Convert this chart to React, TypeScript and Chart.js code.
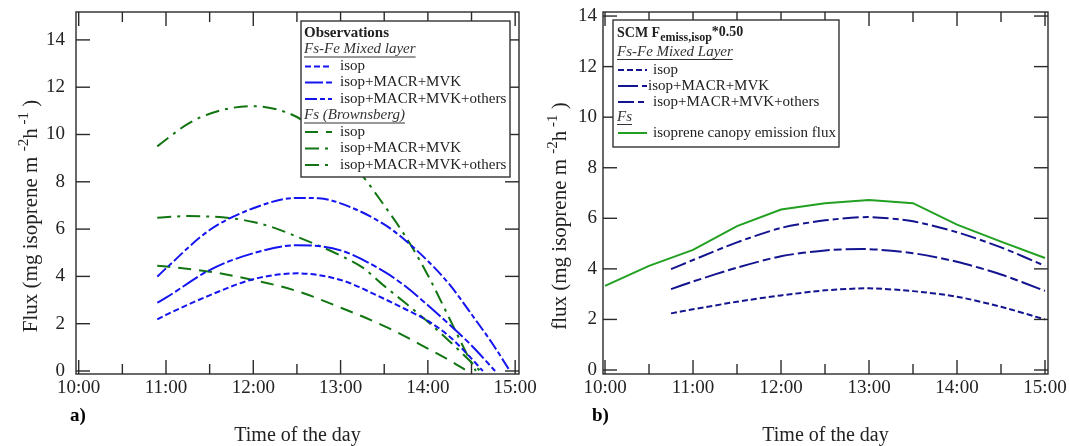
import React, { useEffect, useRef } from "react";
import { Chart, registerables } from "chart.js";
Chart.register(...registerables);

// ---------- shared axis data ----------
const xTickHours = [10, 11, 12, 13, 14, 15];
const xTickLabels = ["10:00", "11:00", "12:00", "13:00", "14:00", "15:00"];
const xMinorHours = [10.5, 11.5, 12.5, 13.5, 14.5];
const yTickValues = [0, 2, 4, 6, 8, 10, 12, 14];

// ---------- panel a) observations ----------
const obsIsopHours = [10.9, 11, 11.5, 12, 12.5, 13, 13.5, 13.75, 14, 14.25, 14.45, 14.63];
const obsIsopFlux = [2.18, 2.37, 3.2, 3.88, 4.13, 3.85, 3.05, 2.6, 2.12, 1.45, 0.72, 0];
const obsMacrHours = [10.9, 11, 11.5, 12, 12.5, 13, 13.5, 13.75, 14, 14.25, 14.5, 14.77];
const obsMacrFlux = [2.89, 3.1, 4.27, 4.98, 5.32, 5.1, 4.2, 3.56, 2.78, 1.95, 1.08, 0];
const obsOthersHours = [10.9, 11, 11.5, 12, 12.5, 12.75, 13, 13.5, 13.75, 14, 14.25, 14.5, 14.75, 14.94];
const obsOthersFlux = [3.99, 4.34, 5.96, 6.88, 7.32, 7.3, 7.09, 6.2, 5.5, 4.65, 3.65, 2.4, 1.1, 0];
const brIsopHours = [10.9, 11, 11.5, 12, 12.5, 13, 13.5, 14, 14.25, 14.45];
const brIsopFlux = [4.45, 4.42, 4.2, 3.85, 3.38, 2.68, 1.9, 0.95, 0.45, 0];
const brMacrHours = [10.9, 11.25, 11.5, 11.75, 12, 12.25, 12.5, 12.75, 13, 13.25, 13.5, 13.75, 14, 14.25, 14.6];
const brMacrFlux = [6.48, 6.55, 6.53, 6.46, 6.3, 6.04, 5.68, 5.3, 4.88, 4.38, 3.6, 2.85, 2.08, 1.25, 0];
const brOthersHours = [10.9, 11.25, 11.5, 11.75, 12, 12.25, 12.5, 12.75, 13, 13.25, 13.5, 13.75, 14, 14.25, 14.5, 14.55];
const brOthersFlux = [9.5, 10.45, 10.88, 11.12, 11.2, 11.08, 10.74, 10.1, 9.25, 8.25, 7.0, 5.65, 4.05, 2.2, 0.33, 0];

// ---------- panel b) SCM ----------
const scmHours = [10.75, 11, 11.5, 12, 12.5, 13, 13.5, 14, 14.5, 15];
const scmIsopFlux = [2.24, 2.4, 2.7, 2.95, 3.15, 3.23, 3.12, 2.9, 2.5, 2.0];
const scmMacrFlux = [3.2, 3.5, 4.05, 4.5, 4.73, 4.78, 4.62, 4.28, 3.78, 3.13];
const scmOthersFlux = [3.99, 4.35, 5.05, 5.62, 5.92, 6.05, 5.88, 5.45, 4.85, 4.12];
const canopyHours = [10, 10.5, 11, 11.5, 12, 12.5, 13, 13.5, 14, 14.5, 15];
const canopyFlux = [3.33, 4.12, 4.75, 5.69, 6.35, 6.6, 6.72, 6.6, 5.75, 5.08, 4.43];

const FONT = "'Liberation Serif', 'Times New Roman', serif";
const INK = "#222";
const BLUE = "#1414F0";
const DGREEN = "#117511";
const NAVY = "#141490";
const LGREEN = "#22A022";

const pts = (h: number[], v: number[]) => h.map((x, i) => ({ x, y: v[i] }));

function line(ctx: CanvasRenderingContext2D, x1: number, y1: number, x2: number, y2: number) {
  ctx.beginPath();
  ctx.moveTo(x1, y1);
  ctx.lineTo(x2, y2);
  ctx.stroke();
}

const framePlugin = {
  id: "frame",
  afterDatasetsDraw(chart: any) {
    const { ctx, chartArea, scales } = chart;
    const { left, right, top, bottom } = chartArea;
    const x = scales.x, y = scales.y;
    ctx.save();
    ctx.strokeStyle = "#2a2a2a";
    ctx.lineWidth = 1.4;
    ctx.setLineDash([]);
    ctx.strokeRect(left, top, right - left, bottom - top);
    yTickValues.forEach((v) => {
      const py = y.getPixelForValue(v);
      line(ctx, left, py, left + 14, py);
      line(ctx, right - 14, py, right, py);
    });
    xTickHours.forEach((h) => {
      const px = x.getPixelForValue(h);
      line(ctx, px, bottom, px, bottom - 14);
      line(ctx, px, top, px, top + 14);
    });
    xMinorHours.forEach((h) => {
      const px = x.getPixelForValue(h);
      line(ctx, px, bottom, px, bottom - 10);
      line(ctx, px, top, px, top + 10);
    });
    ctx.restore();
  },
};

type Row = { kind: string; text?: string; y: number; ds?: number; textX?: number };
type LegendSpec = { box: number[]; sample: number[]; textX: number; headX: number; rows: Row[] };
type YTitle = { word: string; cx: number; cy: number };

function drawYTitle(ctx: CanvasRenderingContext2D, t: YTitle) {
  const parts: { s: string; sup: boolean }[] = [
    { s: `${t.word} (mg isoprene m `, sup: false },
    { s: "-2", sup: true },
    { s: "h", sup: false },
    { s: " -1", sup: true },
    { s: " )", sup: false },
  ];
  const big = `21px ${FONT}`;
  const small = `15px ${FONT}`;
  let total = 0;
  parts.forEach((p) => {
    ctx.font = p.sup ? small : big;
    total += ctx.measureText(p.s).width;
  });
  ctx.save();
  ctx.translate(t.cx, t.cy);
  ctx.rotate(-Math.PI / 2);
  ctx.fillStyle = INK;
  ctx.textAlign = "left";
  ctx.textBaseline = "alphabetic";
  let x = -total / 2;
  parts.forEach((p) => {
    ctx.font = p.sup ? small : big;
    ctx.fillText(p.s, x, p.sup ? -2 : 7);
    x += ctx.measureText(p.s).width;
  });
  ctx.restore();
}

function makeLegendPlugin(spec: LegendSpec, panelLabel: { text: string; x: number; y: number }, yTitle: YTitle) {
  return {
    id: "boxLegend",
    afterDraw(chart: any) {
      const ctx: CanvasRenderingContext2D = chart.ctx;
      const [x1, y1, x2, y2] = spec.box;
      ctx.save();
      ctx.fillStyle = "#fff";
      ctx.fillRect(x1, y1, x2 - x1, y2 - y1);
      ctx.strokeStyle = "#333";
      ctx.lineWidth = 1.4;
      ctx.setLineDash([]);
      ctx.strokeRect(x1, y1, x2 - x1, y2 - y1);
      ctx.textBaseline = "middle";
      ctx.textAlign = "left";
      spec.rows.forEach((r) => {
        if (r.kind === "title") {
          ctx.fillStyle = INK;
          ctx.font = `bold 15px ${FONT}`;
          ctx.fillText(r.text!, spec.headX, r.y);
        } else if (r.kind === "scmTitle") {
          ctx.fillStyle = INK;
          ctx.textBaseline = "alphabetic";
          ctx.font = `bold 14px ${FONT}`;
          let cx = spec.headX;
          ctx.fillText("SCM F", cx, r.y + 5);
          cx += ctx.measureText("SCM F").width;
          ctx.font = `bold 12px ${FONT}`;
          ctx.fillText("emiss,isop", cx, r.y + 9);
          cx += ctx.measureText("emiss,isop").width;
          ctx.font = `bold 14px ${FONT}`;
          ctx.fillText("*0.50", cx, r.y + 4);
          ctx.textBaseline = "middle";
        } else if (r.kind === "header") {
          ctx.fillStyle = "#333";
          ctx.font = `italic 15px ${FONT}`;
          ctx.fillText(r.text!, spec.headX, r.y);
          const w = ctx.measureText(r.text!).width;
          ctx.lineWidth = 1;
          ctx.strokeStyle = "#333";
          line(ctx, spec.headX, r.y + 7.5, spec.headX + w, r.y + 7.5);
        } else {
          const ds = chart.data.datasets[r.ds!];
          ctx.strokeStyle = ds.borderColor;
          ctx.lineWidth = 2;
          ctx.setLineDash(ds.borderDash || []);
          line(ctx, spec.sample[0], r.y, spec.sample[1], r.y);
          ctx.setLineDash([]);
          ctx.fillStyle = INK;
          ctx.font = `15px ${FONT}`;
          ctx.fillText(r.text ?? ds.label, r.textX ?? spec.textX, r.y);
        }
      });
      ctx.font = `bold 19px ${FONT}`;
      ctx.fillStyle = "#000";
      ctx.textBaseline = "middle";
      ctx.fillText(panelLabel.text, panelLabel.x, panelLabel.y);
      ctx.restore();
      drawYTitle(ctx, yTitle);
    },
  };
}

function makeConfig(opts: {
  datasets: any[];
  xmin: number; xmax: number; ymin: number; ymax: number;
  padLeft: number; padRight: number; yWidth: number; yTickPad: number;
  legend: any;
}) {
  return {
    type: "line" as const,
    data: { datasets: opts.datasets },
    options: {
      animation: false as const,
      responsive: false,
      devicePixelRatio: 1,
      events: [] as any[],
      layout: { padding: { left: opts.padLeft, right: opts.padRight, top: 12, bottom: 0 } },
      plugins: { legend: { display: false }, tooltip: { enabled: false } },
      elements: { point: { radius: 0 } },
      scales: {
        x: {
          type: "linear" as const,
          min: opts.xmin,
          max: opts.xmax,
          afterBuildTicks: (s: any) => { s.ticks = xTickHours.map((v) => ({ value: v })); },
          afterFit: (s: any) => { s.height = 72; s.paddingLeft = 0; s.paddingRight = 0; },
          grid: { display: false, drawTicks: false },
          border: { display: false },
          ticks: {
            autoSkip: false, maxRotation: 0, padding: 3, color: INK,
            font: { family: FONT, size: 19 },
            callback: (_v: any, i: number) => xTickLabels[i],
          },
          title: { display: true, text: "Time of the day", color: INK, font: { family: FONT, size: 20 }, padding: { top: 0, bottom: -2 } },
        },
        y: {
          type: "linear" as const,
          min: opts.ymin,
          max: opts.ymax,
          afterBuildTicks: (s: any) => { s.ticks = yTickValues.map((v) => ({ value: v })); },
          afterFit: (s: any) => { s.width = opts.yWidth; s.paddingTop = 0; s.paddingBottom = 0; },
          grid: { display: false, drawTicks: false },
          border: { display: false },
          ticks: { padding: opts.yTickPad, color: INK, font: { family: FONT, size: 19 }, callback: (v: any) => String(v) },
        },
      },
    },
    plugins: [framePlugin, opts.legend],
  };
}

function ds(label: string, h: number[], v: number[], color: string, dash: number[], tension: number, mono = false) {
  return {
    label,
    data: pts(h, v),
    borderColor: color,
    backgroundColor: color,
    borderWidth: 2,
    borderDash: dash,
    fill: false,
    tension,
    cubicInterpolationMode: mono ? "monotone" : "default",
    pointRadius: 0,
  };
}

export default function App() {
  const leftRef = useRef<HTMLCanvasElement>(null);
  const rightRef = useRef<HTMLCanvasElement>(null);

  useEffect(() => {
    const leftDatasets = [
      ds("isop", obsIsopHours, obsIsopFlux, BLUE, [6, 3], 0.4, true),
      ds("isop+MACR+MVK", obsMacrHours, obsMacrFlux, BLUE, [18, 3, 6, 3], 0.4, true),
      ds("isop+MACR+MVK+others", obsOthersHours, obsOthersFlux, BLUE, [12, 3, 5, 3], 0.4, true),
      ds("isop", brIsopHours, brIsopFlux, DGREEN, [13, 8], 0.4, true),
      ds("isop+MACR+MVK", brMacrHours, brMacrFlux, DGREEN, [14, 6, 3, 6], 0.4, true),
      ds("isop+MACR+MVK+others", brOthersHours, brOthersFlux, DGREEN, [14, 6, 3, 6], 0.4, true),
    ];
    const leftLegend = makeLegendPlugin(
      {
        box: [301, 21, 510, 177], sample: [305, 332], textX: 340, headX: 304,
        rows: [
          { kind: "title", text: "Observations", y: 33 },
          { kind: "header", text: "Fs-Fe Mixed layer", y: 49.5 },
          { kind: "item", ds: 0, y: 66.5 },
          { kind: "item", ds: 1, y: 82.5 },
          { kind: "item", ds: 2, y: 99 },
          { kind: "header", text: "Fs (Brownsberg)", y: 115.5 },
          { kind: "item", ds: 3, y: 132 },
          { kind: "item", ds: 4, y: 148.5 },
          { kind: "item", ds: 5, y: 165 },
        ],
      },
      { text: "a)", x: 70, y: 416 },
      { word: "Flux", cx: 30, cy: 216 }
    );
    const rightDatasets = [
      ds("isop", scmHours, scmIsopFlux, NAVY, [6, 3], 0.25),
      ds("isop+MACR+MVK", scmHours, scmMacrFlux, NAVY, [20, 4, 8, 4], 0.25),
      ds("isop+MACR+MVK+others", scmHours, scmOthersFlux, NAVY, [16, 4, 6, 4], 0.25),
      ds("isoprene canopy emission flux", canopyHours, canopyFlux, LGREEN, [], 0),
    ];
    const rightLegend = makeLegendPlugin(
      {
        box: [613, 20, 839, 147], sample: [618, 647], textX: 653, headX: 617,
        rows: [
          { kind: "scmTitle", y: 32 },
          { kind: "header", text: "Fs-Fe Mixed Layer", y: 52 },
          { kind: "item", ds: 0, y: 70 },
          { kind: "item", ds: 1, y: 86, textX: 648 },
          { kind: "item", ds: 2, y: 102 },
          { kind: "header", text: "Fs", y: 117 },
          { kind: "item", ds: 3, y: 133 },
        ],
      },
      { text: "b)", x: 592, y: 416 },
      { word: "flux", cx: 559, cy: 216 }
    );

    const c1 = new Chart(leftRef.current!, makeConfig({
      datasets: leftDatasets,
      xmin: 9.969, xmax: 15.044, ymin: -0.127, ymax: 15.18,
      padLeft: 0, padRight: 1069 - 519, yWidth: 76, yTickPad: 11,
      legend: leftLegend,
    }) as any);
    const c2 = new Chart(rightRef.current!, makeConfig({
      datasets: rightDatasets,
      xmin: 9.977, xmax: 15.034, ymin: -0.158, ymax: 14.16,
      padLeft: 534, padRight: 1069 - 1048, yWidth: 69, yTickPad: 6,
      legend: rightLegend,
    }) as any);
    return () => {
      c1.destroy();
      c2.destroy();
    };
  }, []);

  return (
    <div style={{ position: "absolute", left: 0, top: 0, width: 1069, height: 446, background: "#fff" }}>
      <canvas ref={leftRef} width={1069} height={446} style={{ position: "absolute", left: 0, top: 0 }} />
      <canvas ref={rightRef} width={1069} height={446} style={{ position: "absolute", left: 0, top: 0 }} />
    </div>
  );
}
